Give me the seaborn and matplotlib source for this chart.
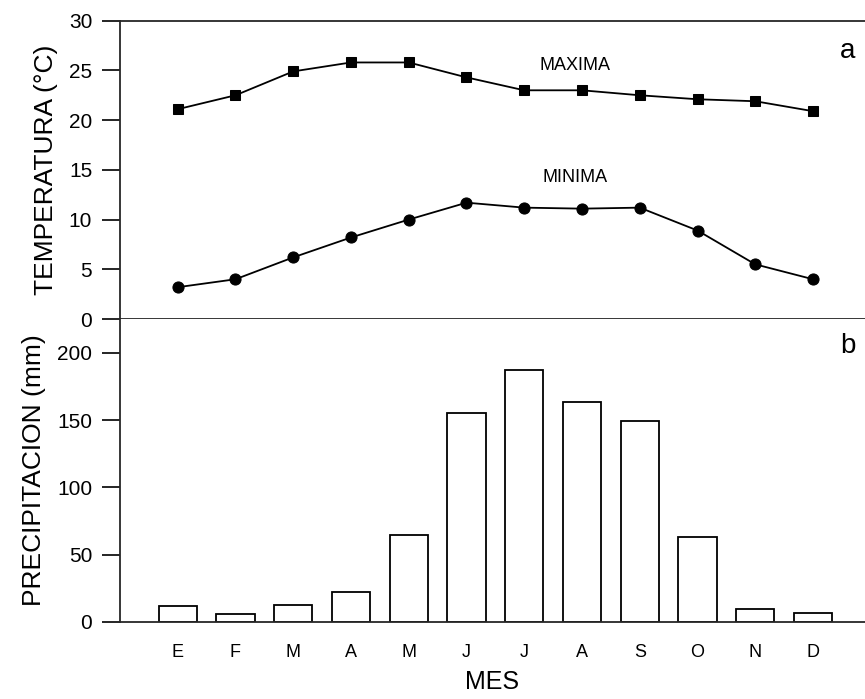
import matplotlib
matplotlib.use("Agg")
import matplotlib.pyplot as plt
import pandas as pd
import seaborn as sns

meses = ["E", "F", "M", "A", "M", "J", "J", "A", "S", "O", "N", "D"]
mes_num = list(range(1, 13))
t_max = [21.1, 22.5, 24.9, 25.8, 25.8, 24.3, 23.0, 23.0, 22.5, 22.1, 21.9, 20.9]
t_min = [3.2, 4.0, 6.2, 8.2, 10.0, 11.7, 11.2, 11.1, 11.2, 8.9, 5.5, 4.0]
precip = [12.1, 5.7, 12.7, 22.6, 64.5, 155.4, 186.9, 163.6, 149.2, 63.0, 9.7, 6.5]

sns.set_style("ticks")
plt.rcParams["font.family"] = ["Liberation Sans", "DejaVu Sans"]
plt.rcParams["text.color"] = "black"
plt.rcParams["axes.labelcolor"] = "black"
plt.rcParams["xtick.color"] = "black"
plt.rcParams["ytick.color"] = "black"

df = pd.DataFrame({"mes": mes_num, "max": t_max, "min": t_min, "pp": precip})

fig = plt.figure(figsize=(8.65, 6.99), dpi=100)
ax1 = fig.add_axes([0.1387, 0.5436, 0.8613, 0.4268])
ax2 = fig.add_axes([0.1387, 0.1102, 0.8613, 0.4334])

# panel a: temperaturas
sns.lineplot(data=df, x="mes", y="max", marker="s", markersize=7, color="black",
             linewidth=1.3, markeredgecolor="black", ax=ax1)
sns.lineplot(data=df, x="mes", y="min", marker="o", markersize=8, color="black",
             linewidth=1.3, markeredgecolor="black", ax=ax1)
ax1.set_xlim(0, 12.9)
ax1.set_ylim(0, 30)
ax1.set_yticks(range(0, 31, 5))
ax1.set_xticks([])
ax1.set_xlabel("")
ax1.set_ylabel("TEMPERATURA (°C)", fontsize=19, labelpad=8)
ax1.text(7.88, 25.5, "MAXIMA", fontsize=13, ha="center", va="center")
ax1.text(7.88, 14.2, "MINIMA", fontsize=13, ha="center", va="center")
ax1.text(12.6, 27.0, "a", fontsize=20, ha="center", va="center")

# panel b: precipitacion
sns.barplot(data=df, x="mes", y="pp", native_scale=True, width=0.66,
            color="white", edgecolor="black", linewidth=1.3, ax=ax2)
ax2.set_xlim(0, 12.9)
ax2.set_ylim(0, 225)
ax2.set_yticks([0, 50, 100, 150, 200])
ax2.set_xticks(mes_num)
ax2.set_xticklabels(meses)
ax2.tick_params(axis="x", length=0, pad=16, labelsize=13)
ax2.set_xlabel("MES", fontsize=18, labelpad=6)
ax2.set_ylabel("PRECIPITACION (mm)", fontsize=19, labelpad=8)
ax2.text(12.6, 205, "b", fontsize=20, ha="center", va="center")

for ax in (ax1, ax2):
    ax.spines["right"].set_visible(False)
    for s in ("left", "bottom", "top"):
        ax.spines[s].set_linewidth(1.3)
    ax.tick_params(axis="y", length=13, width=1.2, labelsize=15, pad=7)
ax2.spines["top"].set_visible(False)

fig.savefig("out.png", dpi=100)
